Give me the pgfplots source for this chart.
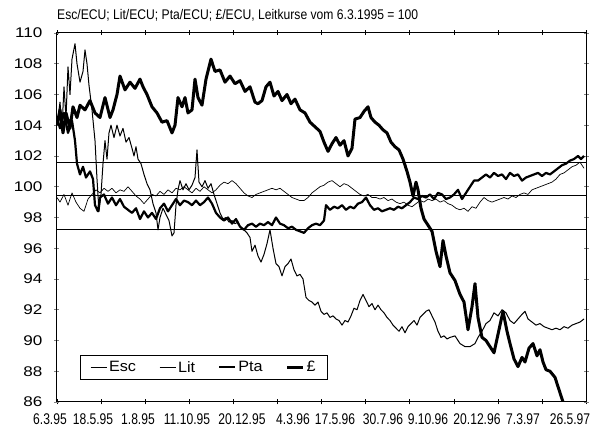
\documentclass[border=0pt]{standalone}
\usepackage{fontspec}
\setmainfont{Liberation Sans}
\usepackage{graphicx}
\usepackage{pgfplots}
\pgfplotsset{compat=1.18}

\newcommand{\xl}[1]{\scalebox{0.78}[1]{#1}}
\newcommand{\lgl}[1]{\scalebox{1.08}[1]{#1}}

% x = trading-day position (0 = 6.3.95), y = index, Leitkurs vom 6.3.1995 = 100
\pgfplotstableread{
x y
0 99.3
3 99.0
7 99.5
11 98.8
15 99.6
19 99.0
23 98.6
27 98.4
31 99.2
35 99.5
39 99.8
43 99.6
47 99.9
51 99.7
55 99.9
59 99.6
63 99.8
67 99.7
71 100.0
75 99.7
79 99.4
83 99.2
87 98.9
91 99.2
95 99.5
99 99.4
103 99.7
107 99.5
111 99.8
115 99.6
119 99.9
123 99.8
127 100.0
131 99.8
135 99.6
139 99.9
143 99.7
147 100.0
151 99.8
155 99.6
159 99.8
163 100.1
167 100.3
171 100.2
175 100.4
179 100.2
183 99.9
187 99.6
191 99.4
195 99.3
199 99.5
203 99.6
207 99.7
211 99.8
215 99.9
219 99.8
223 99.9
227 99.7
231 99.5
235 99.3
239 99.2
243 99.1
247 99.1
251 99.3
255 99.6
259 99.8
263 100.0
267 100.1
271 100.3
275 100.4
279 100.2
283 100.0
287 100.2
291 100.1
295 99.9
299 99.7
303 99.5
307 99.4
311 99.5
315 99.3
319 99.3
323 99.2
327 99.3
331 99.1
335 99.2
339 99.0
343 98.9
347 99.0
351 98.8
355 98.7
359 98.9
363 99.1
367 99.0
371 99.2
375 99.1
379 99.2
383 99.0
387 99.1
391 98.9
395 98.8
399 98.6
403 98.5
407 98.6
411 98.4
415 98.7
419 98.6
423 99.0
427 99.3
431 99.1
435 99.0
439 99.1
443 99.2
447 99.3
451 99.2
455 99.4
459 99.3
463 99.5
467 99.6
471 99.5
475 99.8
479 99.9
483 100.0
487 100.1
491 100.2
495 100.3
499 100.5
503 100.8
507 100.9
511 101.1
515 101.3
519 101.4
523 101.6
527 101.2
}\esc

\pgfplotstableread{
x y
0 104.0
3 105.5
5 103.8
7 106.5
9 104.5
11 107.8
13 106.0
15 108.3
18 109.3
20 108.0
23 106.8
26 107.5
28 108.9
30 108.0
32 106.6
35 105.0
38 103.0
40 100.5
42 98.4
44 99.5
46 101.5
48 103.0
50 101.8
52 103.5
54 104.0
57 103.2
60 104.0
63 103.3
66 103.8
69 102.9
72 103.2
75 102.5
77 102.0
79 102.6
81 101.8
84 101.5
87 100.8
90 100.2
93 99.8
96 98.9
99 98.3
101 97.2
103 98.0
106 98.6
109 98.2
112 97.8
115 96.8
117 97.0
119 98.8
121 99.8
123 100.4
126 99.8
129 100.2
132 99.8
135 100.1
138 100.6
140 102.4
142 100.3
145 100.0
148 100.4
151 99.9
154 100.2
157 99.5
160 98.9
163 98.3
166 97.9
169 98.0
172 97.7
175 97.8
178 97.6
181 97.7
184 97.3
187 97.2
190 97.0
193 96.7
195 95.8
198 96.2
201 95.5
204 95.1
207 95.6
210 96.3
213 97.2
216 96.0
219 95.0
222 94.8
225 94.2
228 94.8
231 95.0
234 95.3
237 94.6
240 94.2
243 94.3
246 94.0
249 92.8
252 92.6
255 92.5
258 92.3
261 92.5
264 91.9
267 91.7
270 91.8
273 91.5
276 91.6
279 91.4
282 91.3
285 91.0
288 91.3
291 91.2
294 91.6
297 92.1
300 92.0
303 92.6
306 93.0
309 92.6
312 92.2
315 92.4
318 92.0
321 92.3
324 92.0
327 91.8
330 91.5
333 91.3
336 91.0
339 90.8
342 90.6
345 90.9
348 90.5
351 90.9
354 91.1
357 91.3
360 91.0
363 91.5
366 91.7
369 91.9
372 92.0
375 91.6
378 91.2
381 90.6
384 90.2
387 90.3
390 90.1
393 90.2
398 90.3
403 89.8
408 89.6
413 89.6
418 89.8
421 90.2
425 90.6
429 91.1
433 91.3
437 91.8
441 91.6
445 92.0
449 91.8
453 91.3
457 91.1
461 91.4
465 91.7
468 91.9
471 91.4
475 91.2
479 91.0
483 91.1
487 90.9
491 90.8
495 90.7
499 90.8
503 90.7
507 90.9
511 90.8
515 91.0
519 91.1
523 91.2
527 91.4
}\lit

\pgfplotstableread{
x y
0 104.5
3 103.8
7 104.8
11 103.5
15 104.3
18 103.0
20 101.5
23 100.8
26 101.3
29 100.6
33 101.0
36 100.5
38 98.8
41 98.4
43 99.3
47 99.5
51 98.9
55 99.3
59 98.8
63 99.2
67 98.7
71 98.5
75 98.3
79 98.6
83 97.9
87 98.4
91 98.0
95 98.3
99 97.9
103 98.6
107 98.9
111 98.4
115 98.8
119 99.2
123 98.8
127 99.1
131 99.0
135 98.8
139 99.1
143 98.8
147 99.0
151 99.3
155 98.9
159 98.3
163 98.0
167 97.8
171 98.0
175 97.6
179 97.9
183 97.4
187 97.2
191 97.5
195 97.6
199 97.4
203 97.6
207 97.5
211 97.7
215 97.5
219 98.0
223 97.6
227 97.5
231 97.3
235 97.4
239 97.2
243 97.1
247 97.0
251 97.3
255 97.5
259 97.6
263 97.5
267 97.8
269 98.8
273 98.5
277 98.7
281 98.6
285 98.8
289 98.5
293 98.7
297 98.6
301 98.9
305 99.0
309 99.3
313 98.8
317 98.5
321 98.6
325 98.4
329 98.5
333 98.6
337 98.5
341 98.7
345 98.6
349 98.8
353 99.0
357 99.3
361 99.2
365 99.4
369 99.3
373 99.5
377 99.2
381 99.6
385 99.5
389 99.2
393 99.3
397 99.5
401 99.8
405 99.2
409 99.6
413 100.0
417 100.4
421 100.4
425 100.6
429 100.8
433 100.6
437 100.9
441 100.7
445 100.8
449 100.5
453 100.9
457 100.7
461 100.8
465 100.4
469 100.6
473 100.7
477 100.8
481 100.9
485 100.7
489 100.9
493 100.8
497 101.0
501 101.2
505 101.4
509 101.5
513 101.7
517 101.8
521 102.0
524 101.8
527 102.0
}\pta

\pgfplotstableread{
x y
0 104.0
3 105.0
6 103.5
9 104.8
13 103.8
16 105.2
20 104.5
23 105.3
28 105.0
33 105.6
38 104.8
43 104.5
48 105.8
53 104.5
56 105.0
60 106.0
63 107.2
68 106.3
73 106.8
78 106.4
83 107.0
86 106.5
90 106.0
95 105.2
100 104.8
105 104.2
110 104.3
115 103.5
118 104.0
121 105.8
125 105.2
128 105.8
131 104.8
135 105.0
138 107.0
141 105.8
145 105.3
149 107.0
154 108.3
158 107.5
163 107.6
168 106.8
173 107.2
178 106.7
183 106.9
188 106.2
193 106.5
198 105.5
201 105.4
205 105.6
209 106.5
213 106.8
217 105.9
221 106.2
225 105.6
230 106.0
234 105.4
238 105.7
243 105.0
248 104.8
253 104.2
258 103.9
263 103.6
267 102.9
271 102.3
275 102.8
279 103.2
283 102.7
287 103.0
291 102.0
295 102.5
298 104.4
303 104.5
307 104.9
311 105.2
314 104.5
318 104.2
322 104.0
326 103.7
330 103.5
334 102.9
338 102.6
342 102.4
346 101.8
350 101.0
353 100.3
356 99.4
359 100.3
361 99.8
364 98.6
367 97.9
371 97.5
375 97.1
379 95.8
383 94.8
386 96.5
389 95.5
393 94.4
398 93.9
403 93.0
407 92.5
411 90.7
415 92.2
418 93.7
421 91.5
425 90.2
429 90.0
433 89.6
437 89.2
441 90.4
446 91.9
450 90.6
453 89.8
457 88.8
461 88.3
465 88.9
468 88.6
472 89.5
476 89.8
480 89.0
483 89.4
486 88.6
489 88.1
493 88.0
498 87.6
502 86.8
506 86.0
}\gbp

\begin{document}
\begin{tikzpicture}
\useasboundingbox (0,0) rectangle (592pt,427pt);
\begin{axis}[
  at={(57pt,25pt)}, anchor=south west,
  scale only axis, width=529pt, height=369pt,
  xmin=0, xmax=529, ymin=86, ymax=110,
  axis line style={line width=1pt},
  ytick={86,88,...,110},
  yticklabel={\scalebox{1.22}[1]{\pgfmathprintnumber{\tick}}},
  yticklabel style={font=\fontsize{14}{14}\selectfont, inner sep=0pt, xshift=-12pt},
  ytick style={line width=0.8pt},
  xtick={0,43,88,137,192,243,285,333,378,427,473,520},
  xticklabels={\xl{6.3.95},\xl{18.5.95},\xl{1.8.95},\xl{11.10.95},\xl{20.12.95},\xl{4.3.96},\xl{17.5.96},\xl{30.7.96},\xl{9.10.96},\xl{20.12.96},\xl{7.3.97},\xl{26.5.97}},
  xticklabel style={font=\fontsize{15.5}{15.5}\selectfont, inner sep=0pt, anchor=base, xshift=-7pt, yshift=-20pt},
  major x tick style={draw=none},
  minor xtick={0,44.1,88.2,132.3,176.4,220.5,264.6,308.7,352.8,396.9,441,485.1,529},
  minor x tick style={line width=0.8pt, black},
  minor tick length=5pt, major tick length=5pt, tick align=center,
  /pgf/number format/assume math mode=true,
  title={\fontsize{14}{14}\selectfont\resizebox{361pt}{\height}{Esc/ECU; Lit/ECU; Pta/ECU; £/ECU, Leitkurse vom 6.3.1995 = 100}},
  title style={at={(0,1)}, anchor=base west, inner sep=0pt, yshift=7pt},
  legend columns=4,
  legend style={at={(0.0435,0.06)}, anchor=south west, draw=black, line width=0.6pt,
    font=\fontsize{15}{16}\selectfont, inner xsep=10pt, inner ysep=4pt,
    /tikz/every even column/.append style={column sep=21pt}},
  legend image code/.code={\draw[#1] (0pt,0pt) -- (16pt,0pt);},
]
\addplot[black, line width=0.9pt, forget plot] coordinates {(0,101.59) (529,101.59)};
\addplot[black, line width=0.9pt, forget plot] coordinates {(0,99.42) (529,99.42)};
\addplot[black, line width=0.9pt, forget plot] coordinates {(0,97.25) (529,97.25)};
\addplot[black, line width=0.7pt, line join=round] table {\esc};
\addlegendentry{\lgl{Esc}}
\addplot[black, line width=1pt, line join=round] table {\lit};
\addlegendentry{\lgl{Lit}}
\addplot[black, line width=2.2pt, line join=round] table {\pta};
\addlegendentry{\lgl{Pta}}
\addplot[black, line width=3pt, line join=round] table {\gbp};
\addlegendentry{\lgl{£}}
\end{axis}
\end{tikzpicture}
\end{document}
